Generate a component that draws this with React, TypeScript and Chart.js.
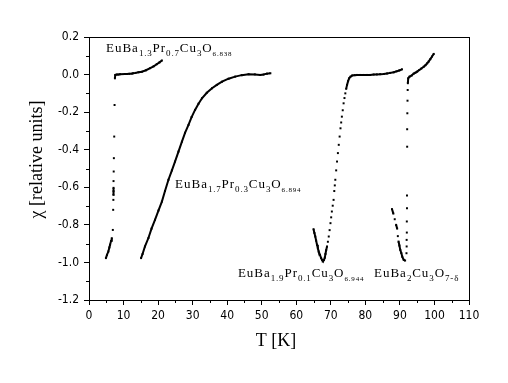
import React, { useEffect, useRef } from "react";
import { Chart, registerables } from "chart.js";

Chart.register(...registerables);

// ---- axis ranges ----
const xMin = 0;
const xMax = 110;
const xStep = 10;
const xMinorStep = 5;
const yMin = -1.2;
const yMax = 0.2;
const yStep = 0.2;
const yMinorStep = 0.1;

const xTitle = "T [K]";
const yTitle = "\u03C7 [relative units]";

// ---- EuBa1.3Pr0.7Cu3O6.838 ----
const s1T = [4.9, 5.2, 5.6, 5.9, 6.1, 6.4, 6.6, 6.9, 7.0, 7.05, 7.05, 7.1, 7.1, 7.1, 7.15, 7.2, 7.3, 7.4, 7.5, 7.6, 8.0, 8.5, 9.0, 10.4, 11.0, 11.7, 12.4, 12.8, 13.5, 14.3, 15.3, 16.5, 17.7, 18.7, 19.6, 20.4, 21.1];
const s1Chi = [-0.977, -0.96, -0.942, -0.92, -0.906, -0.885, -0.871, -0.827, -0.72, -0.667, -0.64, -0.621, -0.603, -0.567, -0.516, -0.445, -0.33, -0.162, -0.02, -0.002, 0.0, 0.0, 0.002, 0.003, 0.003, 0.004, 0.005, 0.007, 0.009, 0.012, 0.015, 0.023, 0.034, 0.044, 0.055, 0.065, 0.075];

// ---- EuBa1.7Pr0.3Cu3O6.894 ----
const s2T = [15.07, 15.5, 16.2, 17.2, 18.1, 19.1, 20.1, 21.1, 22.0, 23.0, 24.0, 24.9, 25.9, 26.9, 27.8, 28.8, 29.7, 30.7, 31.7, 32.7, 34.1, 35.6, 37.0, 38.5, 40.4, 42.3, 44.2, 46.2, 48.0, 49.6, 50.5, 51.5, 52.5];
const s2Chi = [-0.977, -0.955, -0.915, -0.87, -0.82, -0.773, -0.724, -0.676, -0.62, -0.56, -0.51, -0.463, -0.41, -0.357, -0.31, -0.268, -0.226, -0.188, -0.155, -0.126, -0.097, -0.073, -0.055, -0.038, -0.022, -0.011, -0.003, 0.002, 0.001, -0.002, 0.0, 0.005, 0.007];

// ---- EuBa1.9Pr0.1Cu3O6.944 ----
const s3T = [65.0, 65.25, 65.5, 65.75, 66.0, 66.25, 66.5, 66.85, 67.2, 67.5, 67.7, 68.0, 68.25, 68.45, 68.65, 68.9, 69.15, 69.4, 69.65, 69.9, 70.1, 70.3, 70.55, 70.8, 71.0, 71.15, 71.3, 71.55, 71.8, 72.05, 72.3, 72.55, 72.8, 73.0, 73.2, 73.45, 73.7, 73.95, 74.2, 74.45, 74.7, 75.0, 75.3, 75.7, 76.2, 76.9, 77.6, 78.5, 79.5, 80.5, 81.4, 82.4, 83.3, 84.3, 85.3, 86.3, 87.2, 88.2, 89.0, 89.8, 90.6];
const s3Chi = [-0.823, -0.843, -0.862, -0.884, -0.906, -0.925, -0.942, -0.96, -0.977, -0.988, -0.992, -0.988, -0.975, -0.955, -0.935, -0.915, -0.89, -0.862, -0.828, -0.791, -0.76, -0.729, -0.698, -0.667, -0.62, -0.59, -0.56, -0.51, -0.463, -0.418, -0.374, -0.33, -0.286, -0.255, -0.224, -0.19, -0.153, -0.125, -0.1, -0.076, -0.055, -0.035, -0.02, -0.011, -0.005, -0.003, -0.002, -0.002, -0.002, -0.002, -0.002, 0.0, 0.001, 0.002, 0.003, 0.006, 0.009, 0.012, 0.017, 0.022, 0.028];

// ---- EuBa2Cu3O7-δ ----
const s4T = [87.7, 88.1, 88.5, 88.9, 89.2, 89.4, 89.6, 89.85, 90.1, 90.4, 90.7, 91.1, 91.5, 91.9, 91.95, 91.95, 92.0, 92.0, 92.05, 92.05, 92.1, 92.1, 92.15, 92.2, 92.25, 92.3, 92.4, 92.8, 93.4, 94.0, 94.5, 95.0, 95.6, 96.2, 96.9, 97.4, 97.9, 98.3, 98.8, 99.3, 99.8];
const s4Chi = [-0.716, -0.74, -0.77, -0.8, -0.82, -0.86, -0.889, -0.91, -0.933, -0.95, -0.97, -0.986, -0.99, -0.951, -0.915, -0.88, -0.841, -0.782, -0.711, -0.644, -0.384, -0.291, -0.206, -0.139, -0.082, -0.046, -0.02, -0.011, -0.005, 0.005, 0.01, 0.016, 0.024, 0.032, 0.042, 0.05, 0.06, 0.069, 0.082, 0.096, 0.11];

// ---- labels (text parts: n = normal, s = subscript, t = small subscript) ----
const label1 = [["EuBa", "n"], ["1.3", "s"], ["Pr", "n"], ["0.7", "s"], ["Cu", "n"], ["3", "s"], ["O", "n"], ["6.838", "t"]];
const label2 = [["EuBa", "n"], ["1.7", "s"], ["Pr", "n"], ["0.3", "s"], ["Cu", "n"], ["3", "s"], ["O", "n"], ["6.894", "t"]];
const label3 = [["EuBa", "n"], ["1.9", "s"], ["Pr", "n"], ["0.1", "s"], ["Cu", "n"], ["3", "s"], ["O", "n"], ["6.944", "t"]];
const label4 = [["EuBa", "n"], ["2", "s"], ["Cu", "n"], ["3", "s"], ["O", "n"], ["7-\u03B4", "s"]];

const labelAnchors = [
  { parts: label1, x: 4.92, y: 0.12 },
  { parts: label2, x: 24.9, y: -0.606 },
  { parts: label3, x: 43.1, y: -1.078 },
  { parts: label4, x: 82.5, y: -1.078 },
];

const SERIF = '"Liberation Serif", "Times New Roman", serif';
const TICKFONT = '"DejaVu Sans Condensed", "Liberation Sans Narrow", "DejaVu Sans", sans-serif';

function toPoints(xs: number[], ys: number[]) {
  return xs.map((x, i) => ({ x, y: ys[i] }));
}

function makeDataset(xs: number[], ys: number[], maxGap: number) {
  return {
    data: toPoints(xs, ys),
    showLine: true,
    borderColor: "#000",
    borderWidth: 2,
    tension: 0,
    pointRadius: 1.4,
    pointStyle: "rect",
    pointBackgroundColor: "#000",
    pointBorderWidth: 0,
    segment: {
      borderColor: (ctx: any) => {
        const a = ctx.p0;
        const b = ctx.p1;
        return Math.hypot(b.x - a.x, b.y - a.y) <= maxGap ? "#000" : "rgba(0,0,0,0)";
      },
    },
  };
}

const decorPlugin = {
  id: "decor",
  afterDraw(chart: any) {
    const ctx = chart.ctx;
    const { left, top, right, bottom } = chart.chartArea;
    const xs = chart.scales.x;
    const ys = chart.scales.y;
    ctx.save();
    // frame
    ctx.strokeStyle = "#000";
    ctx.lineWidth = 1;
    ctx.strokeRect(Math.round(left) + 0.5, Math.round(top) + 0.5, Math.round(right - left), Math.round(bottom - top));
    // minor ticks
    ctx.beginPath();
    for (let v = xMin + xMinorStep; v < xMax; v += xStep) {
      const px = Math.round(xs.getPixelForValue(v)) + 0.5;
      ctx.moveTo(px, Math.round(bottom));
      ctx.lineTo(px, Math.round(bottom) + 3);
    }
    for (let v = yMin + yMinorStep; v < yMax; v += yStep) {
      const py = Math.round(ys.getPixelForValue(v)) + 0.5;
      ctx.moveTo(Math.round(left), py);
      ctx.lineTo(Math.round(left) - 3, py);
    }
    ctx.stroke();

    // axis titles
    ctx.fillStyle = "#000";
    ctx.font = `18px ${SERIF}`;
    ctx.textAlign = "center";
    ctx.textBaseline = "middle";
    ctx.fillText(xTitle, (left + right) / 2 - 3, bottom + 41);
    ctx.save();
    ctx.translate(37, (top + bottom) / 2 - 9);
    ctx.rotate(-Math.PI / 2);
    ctx.fillText(yTitle, 0, 0);
    ctx.restore();

    // curve labels
    ctx.textAlign = "left";
    ctx.textBaseline = "alphabetic";
    for (const lab of labelAnchors) {
      let x = xs.getPixelForValue(lab.x);
      const y = ys.getPixelForValue(lab.y);
      for (const [txt, kind] of lab.parts) {
        const size = kind === "n" ? 13 : kind === "s" ? 9 : 7;
        const dy = kind === "n" ? 0 : 4;
        ctx.font = `${size}px ${SERIF}`;
        (ctx as any).letterSpacing = kind === "n" ? "1px" : "0.8px";
        ctx.fillText(txt, x, y + dy);
        x += ctx.measureText(txt).width;
      }
    }
    (ctx as any).letterSpacing = "0px";
    ctx.restore();
  },
};

export default function App() {
  const ref = useRef<HTMLCanvasElement>(null);
  useEffect(() => {
    const canvas = ref.current!;
    const chart = new Chart(canvas, {
      type: "scatter",
      data: {
        datasets: [
          makeDataset(s1T, s1Chi, 5),
          makeDataset(s2T, s2Chi, 12),
          makeDataset(s3T, s3Chi, 4.5),
          makeDataset(s4T, s4Chi, 5),
        ] as any,
      },
      options: {
        animation: false,
        responsive: false,
        devicePixelRatio: 1,
        events: [],
        layout: { padding: { left: 0, top: 37, right: 39, bottom: 0 } },
        plugins: { legend: { display: false }, tooltip: { enabled: false } },
        scales: {
          x: {
            type: "linear",
            min: xMin,
            max: xMax,
            afterFit: (s: any) => {
              s.height = 83;
            },
            ticks: {
              stepSize: xStep,
              color: "#000",
              padding: 4,
              maxRotation: 0,
              font: { family: TICKFONT, size: 12 },
            },
            grid: { drawOnChartArea: false, drawTicks: true, tickLength: 5, color: "#000", tickColor: "#000" },
            border: { display: false },
          },
          y: {
            type: "linear",
            min: yMin,
            max: yMax,
            afterFit: (s: any) => {
              s.width = 89;
            },
            ticks: {
              stepSize: yStep,
              color: "#000",
              padding: 5,
              font: { family: TICKFONT, size: 12 },
              callback: (v: any) => (Math.abs(Number(v)) < 1e-9 ? 0 : Number(v)).toFixed(1),
            },
            grid: { drawOnChartArea: false, drawTicks: true, tickLength: 5, color: "#000", tickColor: "#000" },
            border: { display: false },
          },
        },
      } as any,
      plugins: [decorPlugin],
    });
    return () => chart.destroy();
  }, []);
  return (
    <div style={{ position: "fixed", left: 0, top: 0, width: 508, height: 383, background: "#fff" }}>
      <canvas ref={ref} width={508} height={383} style={{ display: "block", width: 508, height: 383 }} />
    </div>
  );
}
